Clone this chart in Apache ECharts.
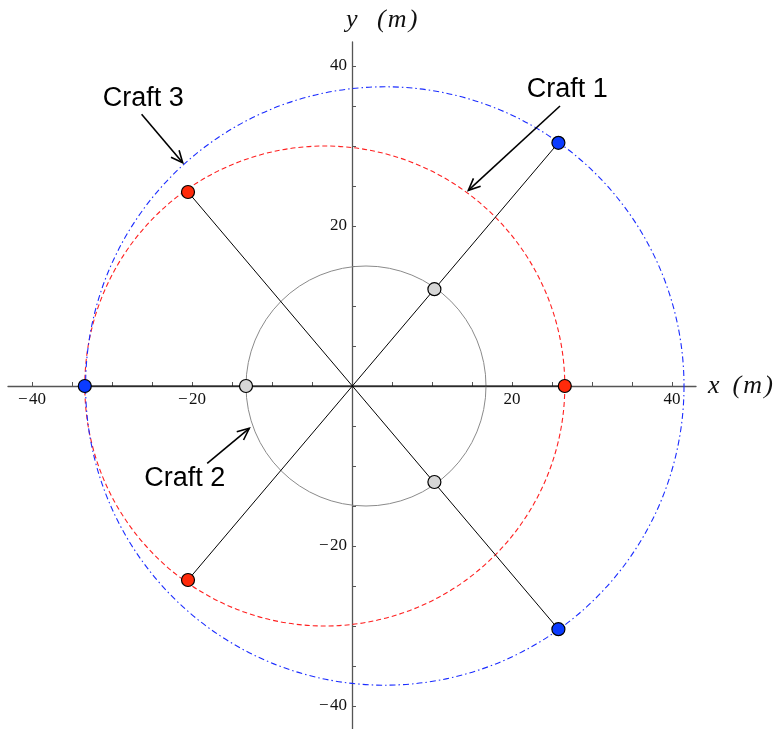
<!DOCTYPE html>
<html>
<head>
<meta charset="utf-8">
<script src="https://cdn.jsdelivr.net/npm/echarts@6/dist/echarts.min.js"></script>
<style>
  html, body { margin: 0; padding: 0; background: #fff; }
  #chart { width: 783px; height: 729px; }
</style>
</head>
<body>
<div id="chart"></div>
<script>
// Axis extent and ticks (metres)
const axisMin = -43;
const axisMax = 43;
const tickValues = [-40, -35, -30, -25, -20, -15, -10, -5, 5, 10, 15, 20, 25, 30, 35, 40];
const labelValues = [-40, -20, 20, 40];

// Orbits of the three crafts: centre and radius
const orbitNames = ['Craft 2', 'Craft 1', 'Craft 3'];
const orbitCenterX = [1.75, -3.4, 4.1];
const orbitCenterY = [0, 0, 0];
const orbitRadius = [15, 30, 37.4];

// Craft positions along the three lines through the origin
const craft1X = [-20.5, -20.5, 26.6];   // red
const craft1Y = [-24.25, 24.25, 0];
const craft2X = [10.3, 10.3, -13.25];   // grey
const craft2Y = [12.1, -12.0, 0];
const craft3X = [25.8, 25.8, -33.4];    // blue
const craft3Y = [30.4, -30.4, 0];

// Callout labels: text position and arrow from -> to
const calloutText = ['Craft 1', 'Craft 2', 'Craft 3'];
const calloutTextX = [26.9, -20.9, -26.1];
const calloutTextY = [37.0, -11.6, 35.9];
const arrowFromX = [26.0, -18.1, -26.3];
const arrowFromY = [35.0, -9.66, 33.96];
const arrowToX = [14.54, -12.84, -21.16];
const arrowToY = [24.46, -5.29, 27.9];

const RED = '#ff2a0a';
const BLUE = '#0b3bff';
const GREY = '#d6d6d6';

const chart = echarts.init(document.getElementById('chart'));

const orbitStyles = [
  { stroke: '#8a8a8a', lineWidth: 1, lineDash: null },
  { stroke: '#ff2020', lineWidth: 1.1, lineDash: [5, 3] },
  { stroke: '#1a2cff', lineWidth: 1.1, lineDash: [6, 3, 1.5, 3] }
];

const orbitData = orbitNames.map((n, i) => [orbitCenterX[i], orbitCenterY[i], orbitRadius[i], i]);

const lineSeries = craft1X.map((_, i) => ({
  type: 'line',
  data: [[craft1X[i], craft1Y[i]], [craft3X[i], craft3Y[i]]],
  symbol: 'none',
  lineStyle: { color: '#000', width: 1 },
  silent: true,
  z: 3,
  animation: false
}));

function pointSeries(xs, ys, color) {
  return {
    type: 'scatter',
    data: xs.map((x, i) => [x, ys[i]]),
    symbol: 'circle',
    symbolSize: 13,
    itemStyle: { color: color, borderColor: '#000', borderWidth: 1.2, opacity: 1 },
    z: 5,
    animation: false
  };
}

const arrowData = calloutText.map((t, i) => [arrowFromX[i], arrowFromY[i], arrowToX[i], arrowToY[i]]);
const textData = calloutText.map((t, i) => [calloutTextX[i], calloutTextY[i], t]);

// Tick labels sit on the crossing axes: [x, y, axis(0 = x, 1 = y)]
const tickLabelData = labelValues.map(v => [v, 0, 0]).concat(labelValues.map(v => [0, v, 1]));
const fmt = v => (v < 0 ? '\u2212\u200a' + Math.abs(v) : String(v));

const serif = '"Liberation Serif", "DejaVu Serif", serif';

chart.setOption({
  animation: false,
  grid: { left: 8, top: 42, width: 688, height: 688, containLabel: false, outerBoundsMode: 'none' },
  xAxis: {
    type: 'value',
    min: axisMin,
    max: axisMax,
    name: 'x  (\u200am\u200a)',
    nameLocation: 'end',
    nameGap: 12,
    nameTextStyle: { fontFamily: serif, fontStyle: 'italic', fontSize: 26, color: '#111', verticalAlign: 'middle', align: 'left' },
    axisLine: { onZero: true, lineStyle: { color: '#555', width: 1.3 } },
    axisTick: { show: true, inside: true, length: 4, customValues: tickValues, lineStyle: { color: '#555', width: 1 } },
    axisLabel: { show: false },
    splitLine: { show: false }
  },
  yAxis: {
    type: 'value',
    min: axisMin,
    max: axisMax,
    name: 'y   (\u200am\u200a)',
    nameLocation: 'end',
    nameGap: 9,
    nameTextStyle: { fontFamily: serif, fontStyle: 'italic', fontSize: 26, color: '#111', align: 'left', padding: [0, 0, 0, -6] },
    axisLine: { onZero: true, lineStyle: { color: '#555', width: 1.3 } },
    axisTick: { show: true, inside: true, length: 4, customValues: tickValues, lineStyle: { color: '#555', width: 1 } },
    axisLabel: { show: false },
    splitLine: { show: false }
  },
  series: [
    {
      type: 'custom',
      data: orbitData,
      silent: true,
      z: 2,
      clip: false,
      renderItem: function (params, api) {
        const c = api.coord([api.value(0), api.value(1)]);
        const r = api.size([api.value(2), 0])[0];
        const s = orbitStyles[api.value(3)];
        return {
          type: 'circle',
          shape: { cx: c[0], cy: c[1], r: r },
          style: { fill: 'none', stroke: s.stroke, lineWidth: s.lineWidth, lineDash: s.lineDash }
        };
      }
    },
    ...lineSeries,
    pointSeries(craft2X, craft2Y, GREY),
    pointSeries(craft1X, craft1Y, RED),
    pointSeries(craft3X, craft3Y, BLUE),
    {
      type: 'custom',
      data: arrowData,
      silent: true,
      z: 6,
      clip: false,
      renderItem: function (params, api) {
        const a = api.coord([api.value(0), api.value(1)]);
        const b = api.coord([api.value(2), api.value(3)]);
        const ang = Math.atan2(b[1] - a[1], b[0] - a[0]);
        const len = 13, spread = 0.42;
        const h1 = [b[0] - len * Math.cos(ang - spread), b[1] - len * Math.sin(ang - spread)];
        const h2 = [b[0] - len * Math.cos(ang + spread), b[1] - len * Math.sin(ang + spread)];
        const st = { stroke: '#000', lineWidth: 1.6, fill: 'none' };
        return {
          type: 'group',
          children: [
            { type: 'line', shape: { x1: a[0], y1: a[1], x2: b[0], y2: b[1] }, style: st },
            { type: 'polyline', shape: { points: [h1, b, h2] }, style: st }
          ]
        };
      }
    },
    {
      type: 'custom',
      data: textData,
      silent: true,
      z: 6,
      clip: false,
      renderItem: function (params, api) {
        const p = api.coord([api.value(0), api.value(1)]);
        return {
          type: 'text',
          x: p[0],
          y: p[1],
          style: {
            text: textData[params.dataIndex][2],
            fontFamily: '"Liberation Sans", Arial, sans-serif',
            fontSize: 27,
            fill: '#000',
            align: 'center',
            verticalAlign: 'middle'
          }
        };
      }
    },
    {
      type: 'custom',
      data: tickLabelData,
      silent: true,
      z: 6,
      clip: false,
      renderItem: function (params, api) {
        const p = api.coord([api.value(0), api.value(1)]);
        const isX = api.value(2) === 0;
        const v = isX ? api.value(0) : api.value(1);
        return {
          type: 'text',
          x: isX ? p[0] : p[0] - 5,
          y: isX ? p[1] + 5 : p[1],
          style: {
            text: fmt(v),
            fontFamily: serif,
            fontSize: 17,
            fill: '#111',
            align: isX ? 'center' : 'right',
            verticalAlign: isX ? 'top' : 'middle'
          }
        };
      }
    }
  ]
});
</script>
</body>
</html>
